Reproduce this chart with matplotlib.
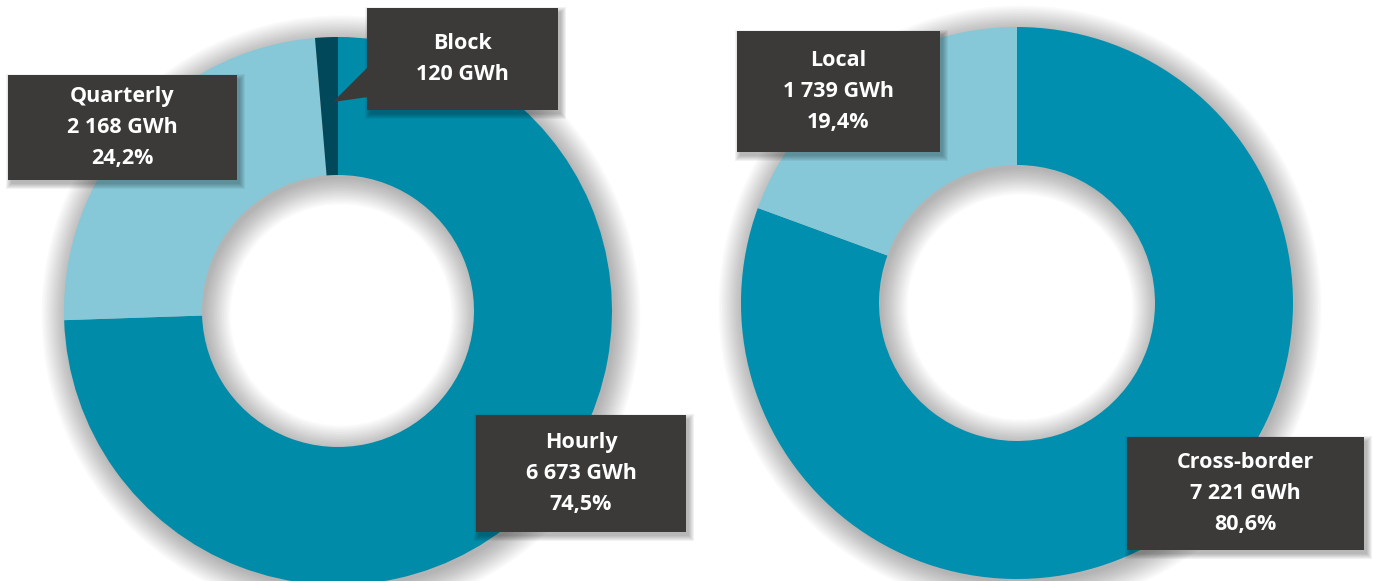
import matplotlib
matplotlib.use("Agg")
import matplotlib.pyplot as plt
from matplotlib.patches import Wedge, Rectangle, Polygon

# ---- data ----
left_labels = ["Hourly", "Quarterly", "Block"]
left_values = [6673, 2168, 120]
left_pcts = ["74,5%", "24,2%", None]
left_gwh = ["6 673 GWh", "2 168 GWh", "120 GWh"]

right_labels = ["Cross-border", "Local"]
right_values = [7221, 1739]
right_pcts = ["80,6%", "19,4%"]
right_gwh = ["7 221 GWh", "1 739 GWh"]

left_colors = ["#008BA8", "#86C8D7", "#00485A"]
right_colors = ["#008FAE", "#86C8D7"]
BOX = "#3B3A39"

W, H = 1373, 581
fig = plt.figure(figsize=(W / 100, H / 100), dpi=100)
ax = fig.add_axes([0, 0, 1, 1])
ax.set_xlim(0, W)
ax.set_ylim(0, H)
ax.set_aspect("equal")
ax.axis("off")

def Y(py):
    return H - py

def donut_shadow(cx, cy, R, r):
    for s in range(16):
        ax.add_patch(Wedge((cx + 3, cy - 4), R + s * 1.7, 0, 360,
                           width=(R + s * 1.7) - max(r - s * 1.7, 1),
                           facecolor="black", alpha=0.02, lw=0, zorder=1))

def box(x0, y0, x1, y1, text):
    for s in range(6):
        ax.add_patch(Rectangle((x0 + 3 - s, Y(y1) - 4 - s), (x1 - x0) + 2 * s, (y1 - y0) + 2 * s,
                               facecolor="black", alpha=0.05, lw=0, zorder=4))
    ax.add_patch(Rectangle((x0, Y(y1)), x1 - x0, y1 - y0, facecolor=BOX, lw=0, zorder=5))
    ax.text((x0 + x1) / 2, Y((y0 + y1) / 2), text, ha="center", va="center",
            color="white", fontsize=15.5, fontweight="bold", family="Open Sans",
            linespacing=1.62, zorder=6)

# left donut
lcx, lcy, lR, lr = 338, Y(311), 274, 136
donut_shadow(lcx, lcy, lR, lr)
ax.pie(left_values, colors=left_colors, startangle=90, counterclock=False,
       center=(lcx, lcy), radius=lR, wedgeprops=dict(width=lR - lr, lw=0, zorder=2),
       frame=True)

# right donut
rcx, rcy, rR, rr = 1017, Y(303), 276, 138
donut_shadow(rcx, rcy, rR, rr)
ax.pie(right_values, colors=right_colors, startangle=90, counterclock=False,
       center=(rcx, rcy), radius=rR, wedgeprops=dict(width=rR - rr, lw=0, zorder=2),
       frame=True)

ax.set_xlim(0, W)
ax.set_ylim(0, H)
ax.axis("off")

# labels
box(476, 415, 686, 532, f"{left_labels[0]}\n{left_gwh[0]}\n{left_pcts[0]}")
box(8, 75, 237, 180, f"{left_labels[1]}\n{left_gwh[1]}\n{left_pcts[1]}")
box(367, 8, 558, 110, f"{left_labels[2]}\n{left_gwh[2]}")
ax.add_patch(Polygon([(368, Y(67)), (368, Y(97)), (333, Y(102))], closed=True,
                     facecolor=BOX, lw=0, zorder=5))
box(1127, 437, 1364, 550, f"{right_labels[0]}\n{right_gwh[0]}\n{right_pcts[0]}")
box(737, 31, 940, 152, f"{right_labels[1]}\n{right_gwh[1]}\n{right_pcts[1]}")

fig.savefig("out.png", dpi=100, facecolor="white")
